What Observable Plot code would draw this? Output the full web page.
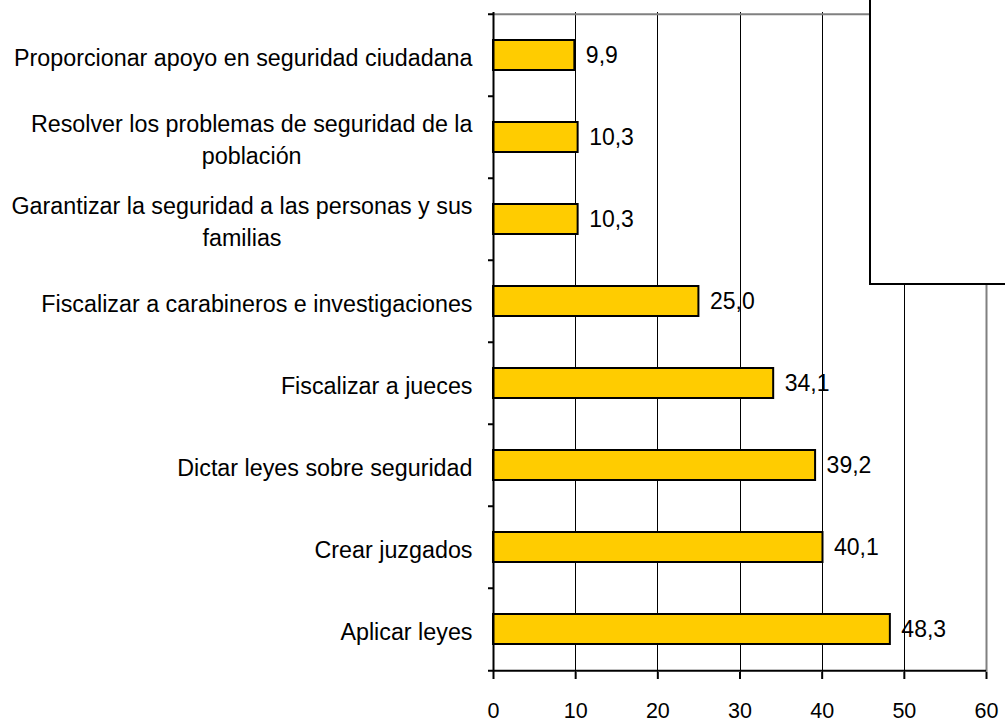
<!DOCTYPE html>
<html>
<head>
<meta charset="utf-8">
<script src="https://cdn.jsdelivr.net/npm/d3@7"></script>
<script src="https://cdn.jsdelivr.net/npm/@observablehq/plot@0.6"></script>
<style>
  html, body { margin: 0; padding: 0; background: #fff; overflow: hidden; }
  #wrap { position: relative; width: 1005px; height: 721px; font-family: "Liberation Sans", Arial, sans-serif; }
  #legendbox { position: absolute; left: 869px; top: -5px; width: 200px; height: 290px; box-sizing: border-box; border: 2px solid #000; background: #fff; }
</style>
</head>
<body>
<div id="wrap"></div>
<script>
const categories = [
  "Proporcionar apoyo en seguridad ciudadana",
  "Resolver los problemas de seguridad de la población",
  "Garantizar la seguridad a las personas y sus familias",
  "Fiscalizar a carabineros e investigaciones",
  "Fiscalizar a jueces",
  "Dictar leyes sobre seguridad",
  "Crear juzgados",
  "Aplicar leyes"
];
const values = [9.9, 10.3, 10.3, 25.0, 34.1, 39.2, 40.1, 48.3];
const categoryLabels = [
  "Proporcionar apoyo en seguridad ciudadana",
  "Resolver los problemas de seguridad de la\npoblación",
  "Garantizar la seguridad a las personas y sus\nfamilias",
  "Fiscalizar a carabineros e investigaciones",
  "Fiscalizar a jueces",
  "Dictar leyes sobre seguridad",
  "Crear juzgados",
  "Aplicar leyes"
];
const xTicks = [0, 10, 20, 30, 40, 50, 60];
const gridValues = [10, 20, 30, 40, 50];

const data = categories.map((c, i) => ({category: c, value: values[i], label: categoryLabels[i]}));
const fmt = v => v.toFixed(1).replace(".", ",");

const W = 1005, H = 721, mT = 12, mB = 49, mL = 493, mR = 19;
const step = (H - mT - mB) / categories.length;

const chart = Plot.plot({
  width: W,
  height: H,
  marginTop: mT,
  marginBottom: mB,
  marginLeft: mL,
  marginRight: mR,
  style: {fontFamily: "'Liberation Sans', Arial, sans-serif", background: "#fff", color: "#000", overflow: "visible"},
  x: {domain: [0, 60], axis: null, label: null},
  y: {domain: categories, paddingInner: 0.636, paddingOuter: 0.318, axis: null, label: null},
  marks: [
    Plot.ruleX(gridValues, {stroke: "#000", strokeWidth: 1, shapeRendering: "crispEdges"}),
    Plot.ruleX([60], {stroke: "#808080", strokeWidth: 2}),
    Plot.ruleY(categories.slice(0, 1), {y: d => d, x1: 0, x2: 60, dy: -step / 2, stroke: "#808080", strokeWidth: 2}),
    Plot.barX(data, {x: "value", y: "category", fill: "#FFCC00", stroke: "#000", strokeWidth: 2}),
    Plot.ruleX([0], {stroke: "#000", strokeWidth: 2}),
    Plot.ruleY(categories.slice(-1), {y: d => d, x1: 0, x2: 60, dy: step / 2, stroke: "#000", strokeWidth: 2}),
    Plot.ruleY(categories, {y: d => d, x1: 0, x2: 0, insetLeft: -5, dy: -step / 2, stroke: "#000", strokeWidth: 2}),
    Plot.ruleY(categories.slice(-1), {y: d => d, x1: 0, x2: 0, insetLeft: -5, dy: step / 2, stroke: "#000", strokeWidth: 2}),
    Plot.axisX(xTicks, {anchor: "bottom", label: null, tickSize: 7, tickPadding: 23, strokeWidth: 2, fontSize: 21.5, tickFormat: d => String(d)}),
    Plot.text(data, {y: "category", text: "label", frameAnchor: "left", textAnchor: "end", dx: -21, fontSize: 23.3, lineHeight: 1.37, fill: "#000"}),
    Plot.text(data, {x: "value", y: "category", text: d => fmt(d.value), textAnchor: "start", dx: 11, fontSize: 23, fill: "#000"})
  ]
});

const wrap = document.getElementById("wrap");
wrap.appendChild(chart);
const box = document.createElement("div");
box.id = "legendbox";
wrap.appendChild(box);

// center multi-line category labels as a block, right-aligned to the axis gap
chart.querySelectorAll("text").forEach(t => {
  const spans = t.querySelectorAll("tspan");
  if (spans.length > 1) {
    let maxW = 0;
    spans.forEach(s => { maxW = Math.max(maxW, s.getComputedTextLength()); });
    t.setAttribute("text-anchor", "middle");
    spans.forEach(s => s.setAttribute("x", -maxW / 2));
  }
});
</script>
</body>
</html>
